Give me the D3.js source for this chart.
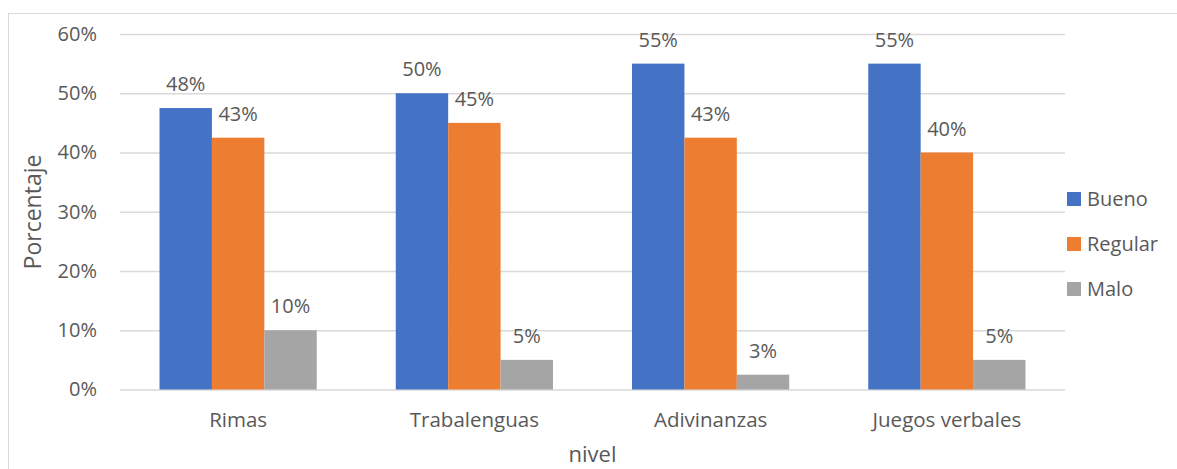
<!DOCTYPE html>
<html><head><meta charset="utf-8">
<script src="https://cdn.jsdelivr.net/npm/d3@7"></script>
<style>body{margin:0;background:#fff}svg{display:block}text{font-family:"Open Sans",sans-serif;fill:#595959}</style>
</head><body><svg id="c" width="1177" height="469"></svg>
<script>
const categories = ["Rimas","Trabalenguas","Adivinanzas","Juegos verbales"];
const seriesNames = ["Bueno","Regular","Malo"];
const bueno = [47.5, 50, 55, 55];
const regular = [42.5, 45, 42.5, 40];
const malo = [10, 5, 2.5, 5];
const labelsBueno = ["48%","50%","55%","55%"];
const labelsRegular = ["43%","45%","43%","40%"];
const labelsMalo = ["10%","5%","3%","5%"];
const yTicks = [0,10,20,30,40,50,60];
const colors = ["#4472C4","#ED7D31","#A5A5A5"];

const values = [bueno, regular, malo];
const labels = [labelsBueno, labelsRegular, labelsMalo];

const svg = d3.select("#c");
svg.append("rect").attr("x",8.5).attr("y",13.5).attr("width",1180).attr("height",470)
  .attr("fill","none").attr("stroke","#D9D9D9");

const L=120, R=1065, T=34, B=389.5;
const x0 = d3.scaleBand().domain(categories).range([L,R]).padding(0);
const x1 = d3.scaleBand().domain(seriesNames).range([0,x0.bandwidth()]).paddingInner(0).paddingOuter(0.754);
const y = d3.scaleLinear().domain([0,60]).range([B,T]);
const color = d3.scaleOrdinal().domain(seriesNames).range(colors);

// gridlines
const yAxis = d3.axisLeft(y).tickValues(yTicks).tickFormat(d=>d+"%").tickSize(-(R-L)).tickPadding(23);
const ga = svg.append("g").attr("transform",`translate(${L},0)`).call(yAxis);
ga.select(".domain").remove();
ga.selectAll("line").attr("stroke","#D9D9D9").attr("stroke-width",1.3);
ga.selectAll("text").style("font-size","20px").attr("fill","#595959");

// bars
const rows = [];
categories.forEach((c,i)=>seriesNames.forEach((s,j)=>rows.push({c,s,v:values[j][i],lab:labels[j][i]})));
svg.append("g").selectAll("rect").data(rows).join("rect")
  .attr("x",d=>x0(d.c)+x1(d.s)).attr("width",x1.bandwidth())
  .attr("y",d=>y(d.v)).attr("height",d=>B-y(d.v)).attr("fill",d=>color(d.s));
svg.append("g").selectAll("text").data(rows).join("text")
  .attr("x",d=>x0(d.c)+x1(d.s)+x1.bandwidth()/2).attr("y",d=>y(d.v)-17)
  .attr("text-anchor","middle").style("font-size","20px").text(d=>d.lab);

// x axis
const xAxis = d3.axisBottom(x0).tickSize(0).tickPadding(23);
const gx = svg.append("g").attr("transform",`translate(0,${B})`).call(xAxis);
gx.select(".domain").remove();
gx.selectAll("text").style("font-size","20.5px").attr("fill","#595959");

// titles
svg.append("text").attr("x",(L+R)/2).attr("y",462).attr("text-anchor","middle").style("font-size","22px").text("nivel");
svg.append("text").attr("transform","translate(41,212) rotate(-90)").attr("text-anchor","middle").style("font-size","23px").text("Porcentaje");

// legend
const lg = svg.append("g").selectAll("g").data(seriesNames).join("g")
  .attr("transform",(d,i)=>`translate(1067,${199+i*45})`);
lg.append("rect").attr("x",0).attr("y",-7).attr("width",14).attr("height",14).attr("fill",d=>color(d));
lg.append("text").attr("x",20).attr("y",7).style("font-size","20px").text(d=>d);
</script></body></html>
